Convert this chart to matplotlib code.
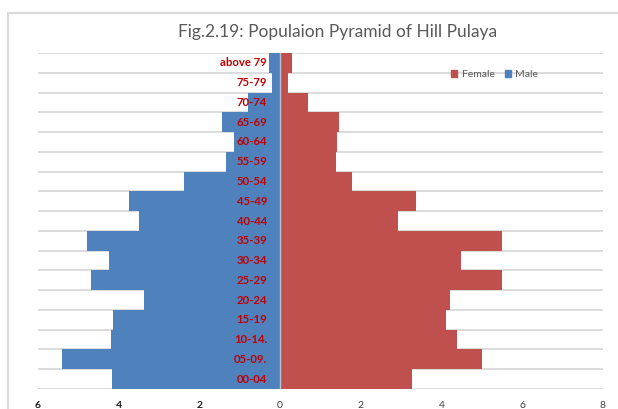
import matplotlib
matplotlib.use('Agg')
from matplotlib import pyplot as plt
from matplotlib.patches import Patch, Rectangle

ages = ['00-04', '05-09.', '10-14.', '15-19', '20-24', '25-29', '30-34', '35-39',
        '40-44', '45-49', '50-54', '55-59', '60-64', '65-69', '70-74', '75-79',
        'above 79']
male = [4.16, 5.40, 4.19, 4.13, 3.37, 4.69, 4.25, 4.79,
        3.49, 3.75, 2.38, 1.33, 1.14, 1.45, 0.79, 0.20, 0.27]
female = [3.27, 5.00, 4.38, 4.10, 4.21, 5.49, 4.48, 5.49,
          2.92, 3.36, 1.77, 1.39, 1.42, 1.45, 0.69, 0.20, 0.30]
xticks = [-6, -4, -2, 0, 2, 4, 6, 8]

blue = '#4F81BD'
red = '#C0504D'

plt.rcParams['font.family'] = ['Lato', 'DejaVu Sans']

fig = plt.figure(figsize=(6.18, 4.09), dpi=100)
fig.patches.append(Rectangle((0.013, -0.1), 1.2, 1.068, transform=fig.transFigure,
                             fill=False, edgecolor='#d9d9d9', linewidth=1.5))
ax = fig.add_axes([0.0615, 0.0489, 0.9142, 0.8215])

pos = list(range(len(ages)))
ax.barh(pos, [-m for m in male], height=1.0, color=blue, zorder=2)
ax.barh(pos, female, height=1.0, color=red, zorder=2)

for b in range(len(ages) + 1):
  ax.axhline(b - 0.5, color='#d9d9d9', linewidth=1.3, zorder=1)
ax.axvline(0, color='#b8c4d8', linewidth=1, zorder=3)

for p, a in zip(pos, ages):
  ax.text(-0.32, p, a, ha='right', va='center', color='#C00000',
          fontsize=8.2, fontweight='bold', zorder=4)

ax.set_xlim(-6, 8)
ax.set_ylim(-0.5, len(ages) - 0.5)
ax.set_yticks([])
ax.set_xticks(xticks)
ax.set_xticklabels([str(abs(t)) for t in xticks], fontsize=7.5, color='#404040')
for lab, t in zip(ax.get_xticklabels(), xticks):
  if t < 0:
    lab.set_fontweight('bold')
    lab.set_color('#202020')
ax.tick_params(axis='x', length=0, pad=9)
for s in ax.spines.values():
  s.set_visible(False)

fig.text(0.547, 0.922, 'Fig.2.19: Populaion Pyramid of Hill Pulaya', ha='center',
         va='center', fontsize=12.5, color='#595959')

handles = [Patch(color=red, label='Female'), Patch(color=blue, label='Male')]
fig.legend(handles=handles, loc='center left', bbox_to_anchor=(0.715, 0.818),
           ncol=2, frameon=False, fontsize=7.5, handlelength=0.6, handleheight=0.6,
           handletextpad=0.4, columnspacing=1.0, labelcolor='#595959')

fig.savefig('out.png', dpi=100)
